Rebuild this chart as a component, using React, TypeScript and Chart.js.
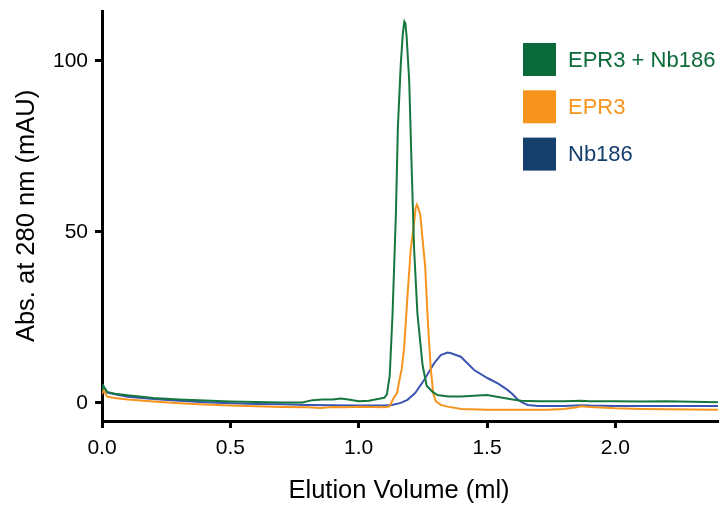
import React, { useEffect, useRef } from "react";
import { Chart, registerables } from "chart.js";

Chart.register(...registerables);

// ---- Data ----
const seriesLabels = ["EPR3 + Nb186", "EPR3", "Nb186"];
const xTitle = "Elution Volume (ml)";
const yTitle = "Abs. at 280 nm (mAU)";

const complexX = [0, 0.005, 0.02, 0.05, 0.1, 0.2, 0.3, 0.4, 0.5, 0.6, 0.7, 0.78, 0.82, 0.86, 0.9, 0.93, 0.96, 1.0, 1.04, 1.08, 1.1, 1.11, 1.121, 1.132, 1.145, 1.153, 1.164, 1.172, 1.178, 1.182, 1.187, 1.197, 1.206, 1.216, 1.229, 1.249, 1.265, 1.288, 1.307, 1.35, 1.4, 1.45, 1.5, 1.555, 1.6, 1.633, 1.7, 1.8, 1.867, 1.9, 2.0, 2.1, 2.2, 2.3, 2.4];
const complexY = [3.5, 5, 3.2, 2.7, 2.2, 1.4, 1.0, 0.7, 0.4, 0.25, 0.1, 0.1, 0.8, 1.0, 1.0, 1.3, 1.0, 0.5, 0.6, 1.2, 1.5, 2.5, 8, 26, 55, 81, 99, 108, 111.5, 111, 107, 94, 70, 45, 26, 11, 5, 3.2, 2.3, 1.9, 1.9, 2.1, 2.3, 1.6, 1.0, 0.6, 0.5, 0.5, 0.6, 0.5, 0.5, 0.4, 0.5, 0.3, 0.2];

const eprX = [0, 0.005, 0.02, 0.05, 0.1, 0.2, 0.3, 0.4, 0.5, 0.6, 0.7, 0.8, 0.85, 0.9, 0.95, 1.0, 1.05, 1.1, 1.12, 1.137, 1.15, 1.157, 1.168, 1.177, 1.19, 1.203, 1.215, 1.222, 1.227, 1.232, 1.24, 1.25, 1.259, 1.268, 1.275, 1.281, 1.29, 1.3, 1.32, 1.346, 1.4, 1.5, 1.6, 1.737, 1.8, 1.85, 1.867, 1.9, 2.0, 2.1, 2.2, 2.4];
const eprY = [2.5, 3.8, 1.8, 1.4, 1.0, 0.4, -0.1, -0.5, -0.8, -1.0, -1.2, -1.3, -1.5, -1.2, -1.3, -1.1, -1.2, -1.3, -1.0, 1.5, 3, 6, 10, 16, 31, 45, 52, 57, 58, 57, 55, 47, 40, 26, 17, 10, 3, 0.5, -0.6, -1.1, -1.8, -2.0, -2.0, -2.0, -1.8, -1.3, -1.0, -1.2, -1.6, -1.8, -1.9, -2.0];

const nbX = [0, 0.005, 0.02, 0.05, 0.1, 0.2, 0.3, 0.4, 0.5, 0.6, 0.7, 0.8, 0.9, 1.0, 1.1, 1.13, 1.164, 1.19, 1.22, 1.255, 1.294, 1.32, 1.346, 1.36, 1.398, 1.45, 1.503, 1.542, 1.58, 1.6, 1.62, 1.64, 1.659, 1.7, 1.8, 1.867, 1.9, 2.0, 2.2, 2.4];
const nbY = [4, 5, 3, 2.5, 1.8, 1.1, 0.6, 0.2, -0.1, -0.3, -0.4, -0.6, -0.7, -0.8, -0.8, -0.6, 0, 0.9, 2.9, 6.7, 11.6, 14, 14.7, 14.5, 13.5, 9.6, 7.2, 5.7, 3.8, 2.5, 0.9, 0, -0.6, -0.9, -0.9, -0.7, -0.8, -0.9, -0.9, -0.9];

const lineColors = ["#16773e", "#f7941d", "#3a55b2"];
const legendColors = ["#0b6a3a", "#f7941d", "#153f6d"];

const xTicks = [0, 0.5, 1.0, 1.5, 2.0];
const yTicks = [0, 50, 100];

const FONT = "'Liberation Sans', Arial, Helvetica, sans-serif";

const toPts = (xs: number[], ys: number[]) => xs.map((x, i) => ({ x, y: ys[i] }));

const legendPlugin = {
  id: "customLegend",
  afterDraw(chart: any) {
    const ctx = chart.ctx;
    ctx.save();
    const bx = 523;
    const by = 43;
    const size = 33;
    const gap = 47.3;
    chart.data.datasets.forEach((ds: any, i: number) => {
      const y = by + i * gap;
      ctx.fillStyle = legendColors[i];
      ctx.fillRect(bx, y, size, size);
      ctx.font = `22px ${FONT}`;
      ctx.textBaseline = "middle";
      ctx.textAlign = "left";
      ctx.fillText(ds.label, 568, y + size / 2 + 1);
    });
    // x-axis title (slightly left of the plot centre, as in the reference)
    ctx.fillStyle = "#000";
    ctx.font = `25.5px ${FONT}`;
    ctx.textAlign = "center";
    ctx.textBaseline = "middle";
    ctx.fillText(xTitle, 399, 491);
    ctx.restore();
  },
};

export default function App() {
  const ref = useRef<HTMLCanvasElement | null>(null);
  useEffect(() => {
    document.body.style.margin = "0";
    if (!ref.current) return;
    const datasets = [
      { label: seriesLabels[0], data: toPts(complexX, complexY), borderColor: lineColors[0] },
      { label: seriesLabels[1], data: toPts(eprX, eprY), borderColor: lineColors[1] },
      { label: seriesLabels[2], data: toPts(nbX, nbY), borderColor: lineColors[2] },
    ].map((d) => ({ ...d, borderWidth: 2, pointRadius: 0, tension: 0, fill: false, showLine: true }));

    const chart = new Chart(ref.current, {
      type: "scatter",
      data: { datasets: datasets as any },
      options: {
        animation: false,
        responsive: false,
        layout: { padding: { top: 11, right: 2, left: 0, bottom: 0 } },
        plugins: { legend: { display: false }, tooltip: { enabled: false } },
        scales: {
          x: {
            type: "linear",
            min: 0,
            max: 2.4,
            afterFit: (s: any) => { s.height = 87; s.paddingLeft = 0; s.paddingRight = 0; },
            afterBuildTicks: (s: any) => { s.ticks = xTicks.map((v) => ({ value: v })); },
            border: { display: true, color: "#000", width: 3 },
            grid: { display: true, drawOnChartArea: false, drawTicks: true, tickLength: 7, tickWidth: 3, tickColor: "#000" },
            ticks: {
              color: "#000",
              font: { family: FONT, size: 21 },
              padding: 8,
              maxRotation: 0,
              callback: (v: any) => Number(v).toFixed(1),
            },
            title: { display: false },
          },
          y: {
            type: "linear",
            min: -5.3,
            max: 114.6,
            afterFit: (s: any) => { s.width = 102; s.paddingTop = 0; s.paddingBottom = 0; },
            afterBuildTicks: (s: any) => { s.ticks = yTicks.map((v) => ({ value: v })); },
            border: { display: true, color: "#000", width: 3 },
            grid: { display: true, drawOnChartArea: false, drawTicks: true, tickLength: 7, tickWidth: 3, tickColor: "#000" },
            ticks: {
              color: "#000",
              font: { family: FONT, size: 21 },
              padding: 7,
              callback: (v: any) => String(v),
            },
            title: {
              display: true,
              text: yTitle,
              color: "#000",
              font: { family: FONT, size: 25.5 },
              padding: { top: 12, bottom: 0 },
            },
          },
        },
      },
      plugins: [legendPlugin],
    });
    return () => chart.destroy();
  }, []);

  return (
    <div style={{ position: "absolute", left: 0, top: 0, width: 720, height: 508 }}>
      <canvas ref={ref} width={720} height={508} style={{ display: "block" }} />
    </div>
  );
}
